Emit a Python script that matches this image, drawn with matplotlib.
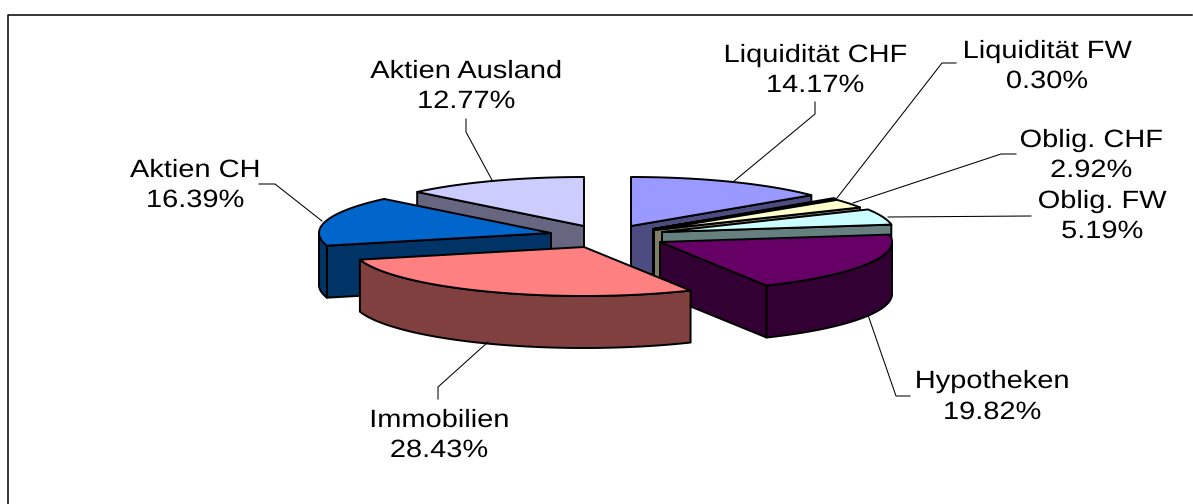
import numpy as np
import matplotlib
matplotlib.use('Agg')
import matplotlib.pyplot as plt
from matplotlib.patches import Polygon
from matplotlib.path import Path
from matplotlib.patheffects import AbstractPathEffect

# Data, clockwise from 12 o'clock
names = ['Liquidität CHF', 'Liquidität FW', 'Oblig. CHF', 'Oblig. FW',
         'Hypotheken', 'Immobilien', 'Aktien CH', 'Aktien Ausland']
values = [14.17, 0.30, 2.92, 5.19, 19.82, 28.43, 16.39, 12.77]

top_colors = ['#9999FF', '#993366', '#FFFFCC', '#CCFFFF',
              '#660066', '#FF8080', '#0066CC', '#CCCCFF']
side_colors = ['#4C4C80', '#4C1933', '#808066', '#668080',
               '#330033', '#804040', '#003366', '#666680']

# Where each exploded slice has its tip, in pixels
tips = [(631, 226), (653, 229), (654, 230), (662, 232),
        (660, 242), (584, 247), (551, 233), (584, 226)]
draw_order = [7, 0, 1, 2, 3, 6, 4, 5]

RX, RY, DEPTH = 232, 49, 52

# Label centre x and the baselines of the two lines
label_pos = [(815, 62, 92), (1047, 58, 88), (1091, 147, 177), (1102, 208, 238),
             (992, 388, 419), (439, 427, 457), (195, 177, 207), (466, 78, 108)]
leaders = [[(733, 182), (815, 114), (815, 102)],
           [(837, 198), (942, 63), (956, 63)],
           [(853, 203), (1001, 154), (1016, 154)],
           [(888, 217), (1031, 216)],
           [(868, 315), (896, 396), (910, 396)],
           [(488, 342), (438, 387), (438, 399)],
           [(322, 221), (275, 184), (259, 184)],
           [(492, 180), (466, 132), (466, 119)]]


class StretchX(AbstractPathEffect):
    # The original text is wider than the font, so stretch the glyphs sideways
    def __init__(self, factor):
        super().__init__()
        self.factor = factor

    def draw_path(self, renderer, gc, tpath, affine, rgbFace=None):
        verts = tpath.vertices.copy()
        mid = (verts[:, 0].min() + verts[:, 0].max()) / 2
        verts[:, 0] = mid + (verts[:, 0] - mid) * self.factor
        renderer.draw_path(gc, Path(verts, tpath.codes), affine, rgbFace)


def rim(tip, a, b):
    t = np.radians(np.linspace(a, b, max(2, int(abs(b - a)) * 2)))
    return np.column_stack([tip[0] + RX * np.sin(t), tip[1] - RY * np.cos(t)])


def shape(ax, pts, color):
    ax.add_patch(Polygon(pts, closed=True, facecolor=color, edgecolor='black',
                         linewidth=1.4, joinstyle='round'))


fig = plt.figure(figsize=(11.93, 5.04), dpi=100)
ax = fig.add_axes([0, 0, 1, 1])
ax.set_xlim(0, 1193)
ax.set_ylim(504, 0)
ax.axis('off')

# Outer frame, only left and top are inside the picture
ax.plot([8.3, 8.3, 1192], [504, 15.3, 15.3], color='black', linewidth=1.1)

# Slice angles
angles = np.cumsum([0] + values) / sum(values) * 360

for i in draw_order:
    a, b = angles[i], angles[i + 1]
    tip = tips[i]
    down = np.array([0, DEPTH])

    # Cut faces that point towards the viewer
    for ang, visible in ((a, np.sin(np.radians(a)) < -0.01),
                         (b, np.sin(np.radians(b)) > 0.01)):
        if visible:
            p = rim(tip, ang, ang + 1)[0]
            shape(ax, [tip, p, p + down, np.array(tip) + down], side_colors[i])

    # Front part of the outer wall
    lo, hi = max(a, 90), min(b, 270)
    if lo < hi:
        arc = rim(tip, lo, hi)
        shape(ax, np.vstack([arc, (arc + down)[::-1]]), side_colors[i])

    # Top face
    shape(ax, np.vstack([[tip], rim(tip, a, b)]), top_colors[i])

for line in leaders:
    xs, ys = zip(*line)
    ax.plot(xs, ys, color='black', linewidth=0.75)

stretch = [StretchX(1.16)]
for name, val, (cx, y1, y2) in zip(names, values, label_pos):
    for txt, y in ((name, y1), (f'{val:.2f}%', y2)):
        ax.text(cx, y, txt, ha='center', va='baseline', fontsize=18,
                family='Liberation Sans', color='black', path_effects=stretch)

plt.savefig('out.png', dpi=100)
